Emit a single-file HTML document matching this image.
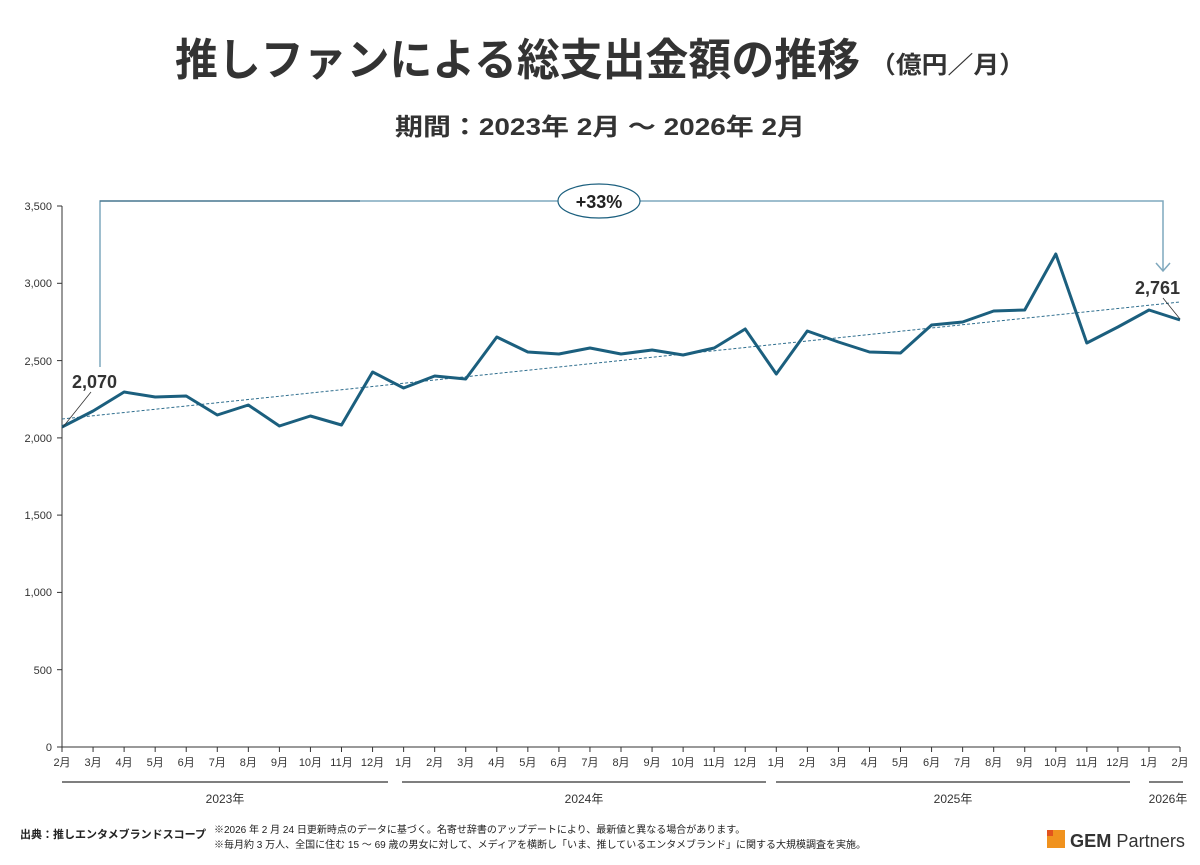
<!DOCTYPE html>
<html><head><meta charset="utf-8"><style>
body{margin:0;background:#fff;width:1200px;height:860px;overflow:hidden}
text{font-family:"Liberation Sans","Noto Sans CJK JP",sans-serif}
</style></head><body>
<svg width="1200" height="860" viewBox="0 0 1200 860" xmlns="http://www.w3.org/2000/svg">
<text x="175" y="75" font-size="44" font-weight="bold" fill="#333" textLength="685" lengthAdjust="spacingAndGlyphs">推しファンによる総支出金額の推移</text>
<text x="870" y="73" font-size="24" font-weight="bold" fill="#333" textLength="155" lengthAdjust="spacingAndGlyphs">（億円／月）</text>
<text x="395" y="135" font-size="24" font-weight="bold" fill="#333" textLength="410" lengthAdjust="spacingAndGlyphs">期間：2023年 2月 ～ 2026年 2月</text>
<g stroke="#333" stroke-width="1" fill="none">
<line x1="62" y1="206" x2="62" y2="747"/>
<line x1="62" y1="747" x2="1180" y2="747"/>
<line x1="57" y1="206" x2="62" y2="206"/><line x1="57" y1="283.3" x2="62" y2="283.3"/><line x1="57" y1="360.6" x2="62" y2="360.6"/><line x1="57" y1="437.9" x2="62" y2="437.9"/><line x1="57" y1="515.1" x2="62" y2="515.1"/><line x1="57" y1="592.4" x2="62" y2="592.4"/><line x1="57" y1="669.7" x2="62" y2="669.7"/><line x1="57" y1="747" x2="62" y2="747"/>
</g>
<g font-size="11" fill="#333" text-anchor="end">
<text x="52" y="210">3,500</text><text x="52" y="287">3,000</text><text x="52" y="365">2,500</text><text x="52" y="442">2,000</text><text x="52" y="519">1,500</text><text x="52" y="596">1,000</text><text x="52" y="674">500</text><text x="52" y="751">0</text>
</g>
<g stroke="#333" stroke-width="1" id="ticks"></g>
<g font-size="11" fill="#333" text-anchor="middle" id="mlabels"></g>
<g stroke="#333" stroke-width="1.2">
<line x1="62" y1="782" x2="388" y2="782"/><line x1="402" y1="782" x2="766" y2="782"/><line x1="776" y1="782" x2="1130" y2="782"/><line x1="1149" y1="782" x2="1183" y2="782"/>
</g>
<g font-size="12" fill="#333" text-anchor="middle">
<text x="225" y="803">2023年</text><text x="584" y="803">2024年</text><text x="953" y="803">2025年</text><text x="1168" y="803">2026年</text>
</g>
<line x1="62" y1="419" x2="1180" y2="302" stroke="#2f6e8e" stroke-width="1" stroke-dasharray="3,2"/>
<polyline id="series" fill="none" stroke="#1b5f7e" stroke-width="3" stroke-linejoin="round" points=""/>
<polyline points="100,367 100,201 1163,201 1163,270" fill="none" stroke="#7fa8bd" stroke-width="1.5"/>
<line x1="100" y1="201" x2="360" y2="201" stroke="#2b5d78" stroke-width="1"/>
<polyline points="1156,263 1163,271 1170,263" fill="none" stroke="#7fa8bd" stroke-width="1.5"/>
<ellipse cx="599" cy="201" rx="41" ry="17" fill="#fff" stroke="#1b5f7e" stroke-width="1.2"/>
<text x="599" y="208" font-size="18" font-weight="bold" fill="#222" text-anchor="middle">+33%</text>
<text x="72" y="388" font-size="18" font-weight="bold" fill="#333">2,070</text>
<line x1="63" y1="427" x2="91" y2="392" stroke="#333" stroke-width="0.8"/>
<text x="1135" y="294" font-size="18" font-weight="bold" fill="#333">2,761</text>
<line x1="1163" y1="298" x2="1180" y2="319" stroke="#333" stroke-width="0.8"/>
<text x="20" y="838" font-size="11" font-weight="bold" fill="#222">出典：推しエンタメブランドスコープ</text>
<text x="214" y="833" font-size="10" fill="#222">※2026 年 2 月 24 日更新時点のデータに基づく。名寄せ辞書のアップデートにより、最新値と異なる場合があります。</text>
<text x="214" y="848" font-size="10" fill="#222">※毎月約 3 万人、全国に住む 15 ～ 69 歳の男女に対して、メディアを横断し「いま、推しているエンタメブランド」に関する大規模調査を実施。</text>
<rect x="1047" y="830" width="18" height="18" fill="#f0921e"/>
<rect x="1047" y="830" width="6" height="6" fill="#e2531d"/>
<text x="1070" y="847" font-size="18" fill="#333" textLength="115" lengthAdjust="spacingAndGlyphs"><tspan font-weight="bold">GEM</tspan> Partners</text>
</svg>
<script>
var ys=[427,411,392,397,396,415,405,426,416,425,372,388,376,379,337,352,354,348,354,350,355,348,329,374,331,342,352,353,325,322,311,310,254,343,327,310,320];
var ms=[2,3,4,5,6,7,8,9,10,11,12,1,2,3,4,5,6,7,8,9,10,11,12,1,2,3,4,5,6,7,8,9,10,11,12,1,2];
var pts=[],t='',l='';
for(var i=0;i<37;i++){var x=62+i*31.056;pts.push(x.toFixed(1)+','+ys[i]);
t+='<line x1="'+x+'" y1="747" x2="'+x+'" y2="752"/>';
l+='<text x="'+x+'" y="766">'+ms[i]+'月</text>';}
document.getElementById('series').setAttribute('points',pts.join(' '));
document.getElementById('ticks').innerHTML=t;
document.getElementById('mlabels').innerHTML=l;
</script>
</body></html>
